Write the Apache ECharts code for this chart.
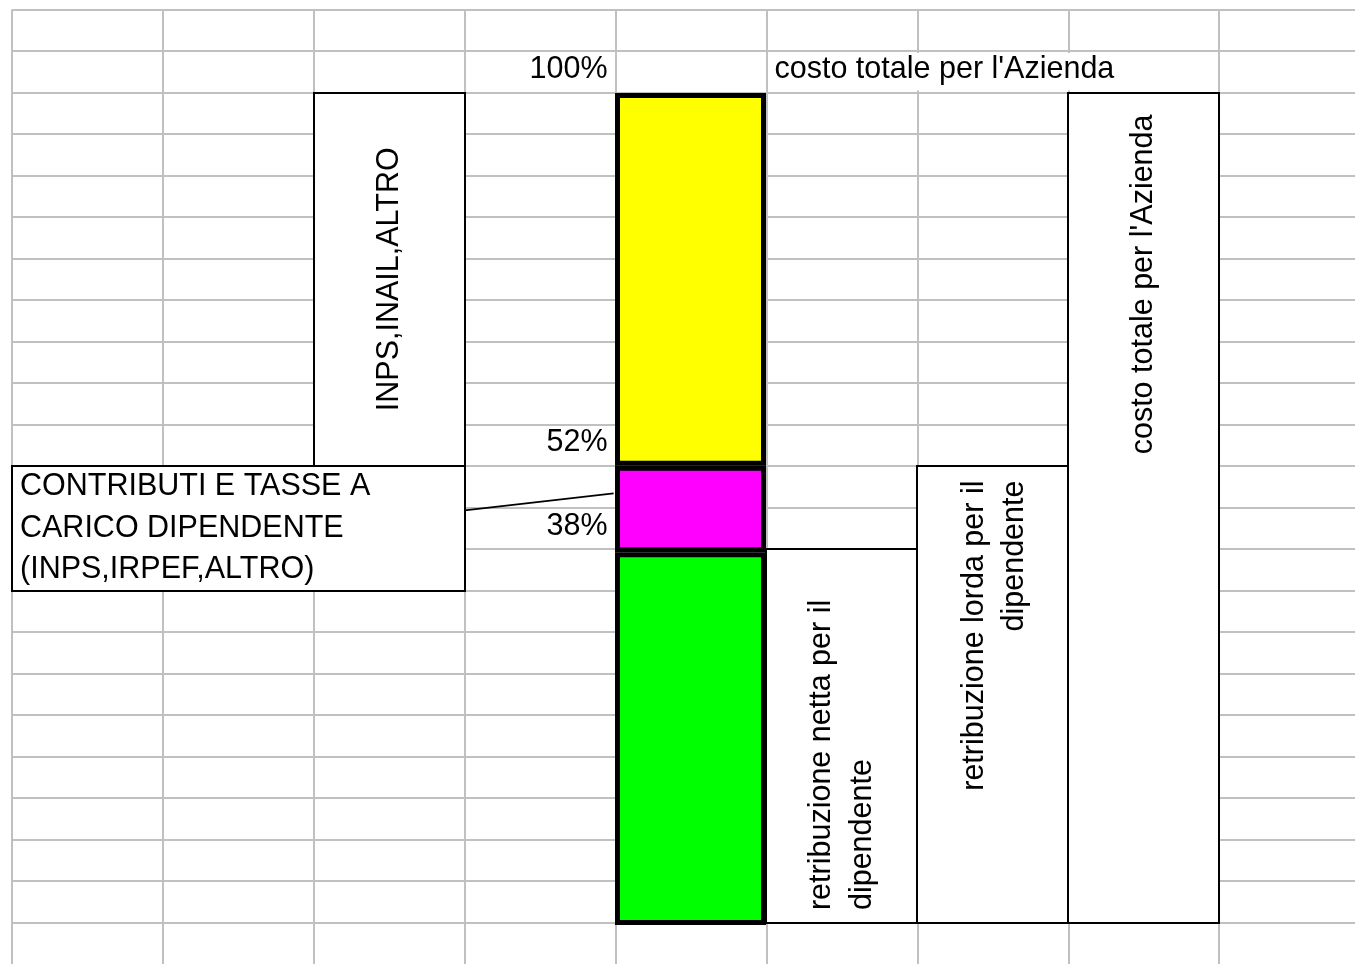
<!DOCTYPE html>
<html>
<head>
<meta charset="utf-8">
<script src="https://cdn.jsdelivr.net/npm/echarts@6/dist/echarts.min.js"></script>
<style>
html,body{margin:0;padding:0;background:#ffffff;}
#main{width:1355px;height:964px;}
</style>
</head>
<body>
<div id="main"></div>
<script>
// ================= DATA =================
const categories = ['costo del lavoro'];
const seriesNames = ['retribuzione netta', 'contributi e tasse a carico dipendente', 'INPS,INAIL,ALTRO'];
const netPay = [44.8];           // green segment
const employeeCharges = [10.4];  // magenta segment
const employerCharges = [44.8];  // yellow segment
const percentLabels = ['100%', '52%', '38%'];
const headerText = "costo totale per l'Azienda";
const boxTexts = [
  'INPS,INAIL,ALTRO',
  'CONTRIBUTI E TASSE A\nCARICO DIPENDENTE\n(INPS,IRPEF,ALTRO)',
  'retribuzione netta per il\ndipendente',
  'retribuzione lorda per il\ndipendente',
  "costo totale per l'Azienda"
];

// ================= LAYOUT (spreadsheet cell units: column, row) =================
const COL_W = 151, ROW_H = 41.636, LEFT = 12, TOP = 9.5;
const N_COLS = 8.9, N_ROWS = 23;
const FONT = {fontSize: 30.5, fontFamily: '"Liberation Sans", Arial, sans-serif', fill: '#000000'};

const boxLayout = [
  {c0: 2, r0: 2,  c1: 3, r1: 11, rot: true,  ax: 2.5,   ay: 6.5,   align: 'center'},
  {c0: 0, r0: 11, c1: 3, r1: 14, rot: false, ax: 0.053, ay: 12.5,  align: 'left'},
  {c0: 5, r0: 13, c1: 6, r1: 22, rot: true,  ax: 5.5,   ay: 21.7,  align: 'left'},
  {c0: 6, r0: 11, c1: 7, r1: 22, rot: true,  ax: 6.51,  ay: 11.35, align: 'right'},
  {c0: 7, r0: 2,  c1: 8, r1: 22, rot: true,  ax: 7.5,   ay: 2.53,  align: 'right'}
];
const cellTextLayout = [
  {c: 3.947, r: 1.443, align: 'right'},
  {c: 3.947, r: 10.43, align: 'right'},
  {c: 3.947, r: 12.45, align: 'right'}
];
const headerLayout = {c: 5.053, r: 1.443, maskC0: 5.02, maskC1: 7.98, maskR0: 1.05, maskR1: 1.95};
const leaderLine = {c0: 3.0, r0: 12.07, c1: 3.987, r1: 11.66};

const chart = echarts.init(document.getElementById('main'), null, {renderer: 'canvas'});

function renderAnnotations(params, api) {
  const children = [];
  // overflow mask for header text (spreadsheet hides gridlines under spilled text)
  const m0 = api.coord([headerLayout.maskC0, headerLayout.maskR0]);
  const m1 = api.coord([headerLayout.maskC1, headerLayout.maskR1]);
  children.push({type: 'rect', shape: {x: m0[0], y: m0[1], width: m1[0] - m0[0], height: m1[1] - m0[1]},
                 style: {fill: '#ffffff'}});
  // text boxes
  boxLayout.forEach(function (b, i) {
    const p0 = api.coord([b.c0, b.r0]);
    const p1 = api.coord([b.c1, b.r1]);
    children.push({type: 'rect',
      shape: {x: Math.round(p0[0]), y: Math.round(p0[1]), width: Math.round(p1[0]) - Math.round(p0[0]), height: Math.round(p1[1]) - Math.round(p0[1])},
      style: {fill: '#ffffff', stroke: '#000000', lineWidth: 2}});
    const a = api.coord([b.ax, b.ay]);
    children.push({type: 'text', x: a[0], y: a[1], rotation: b.rot ? Math.PI / 2 : 0,
      style: Object.assign({text: boxTexts[i], align: b.align, verticalAlign: 'middle', lineHeight: b.rot ? 40.5 : 41.6}, FONT)});
  });
  // cell texts
  cellTextLayout.forEach(function (t, i) {
    const a = api.coord([t.c, t.r]);
    children.push({type: 'text', x: a[0], y: a[1],
      style: Object.assign({text: percentLabels[i], align: t.align, verticalAlign: 'middle'}, FONT)});
  });
  const h = api.coord([headerLayout.c, headerLayout.r]);
  children.push({type: 'text', x: h[0], y: h[1],
    style: Object.assign({text: headerText, align: 'left', verticalAlign: 'middle'}, FONT)});
  return {type: 'group', children: children};
}

function renderLeader(params, api) {
  const p0 = api.coord([leaderLine.c0, leaderLine.r0]);
  const p1 = api.coord([leaderLine.c1, leaderLine.r1]);
  return {type: 'line', shape: {x1: p0[0], y1: p0[1], x2: p1[0], y2: p1[1]},
          style: {stroke: '#000000', lineWidth: 1.6}};
}

const gridLine = {show: true, showMaxLine: false, lineStyle: {color: '#c0c0c0', width: 2}};
const hiddenAxisParts = {axisLine: {show: false}, axisTick: {show: false}, axisLabel: {show: false}};

const option = {
  animation: false,
  backgroundColor: '#ffffff',
  grid: [
    {left: LEFT, top: TOP, width: COL_W * N_COLS, height: ROW_H * N_ROWS, containLabel: false},
    {left: 615, top: 93, width: 151, height: 832, containLabel: false}
  ],
  xAxis: [
    Object.assign({type: 'value', gridIndex: 0, min: 0, max: N_COLS, interval: 1, splitLine: gridLine}, hiddenAxisParts),
    Object.assign({type: 'category', gridIndex: 1, data: categories, splitLine: {show: false}}, hiddenAxisParts)
  ],
  yAxis: [
    Object.assign({type: 'value', gridIndex: 0, inverse: true, min: 0, max: N_ROWS, interval: 1, splitLine: gridLine}, hiddenAxisParts),
    Object.assign({type: 'value', gridIndex: 1, min: 0, max: 100, splitLine: {show: false}}, hiddenAxisParts)
  ],
  series: [
    {type: 'custom', name: 'annotations', xAxisIndex: 0, yAxisIndex: 0, z: 3, silent: true,
     renderItem: renderAnnotations, data: [[0, 0]], clip: false},
    {type: 'bar', name: seriesNames[0], xAxisIndex: 1, yAxisIndex: 1, stack: 'total', data: netPay,
     barWidth: '100%', clip: false, z: 4, itemStyle: {color: '#00ff00', borderColor: '#000000', borderWidth: 5}},
    {type: 'bar', name: seriesNames[1], xAxisIndex: 1, yAxisIndex: 1, stack: 'total', data: employeeCharges,
     barWidth: '100%', clip: false, z: 4, itemStyle: {color: '#ff00ff', borderColor: '#000000', borderWidth: 5}},
    {type: 'bar', name: seriesNames[2], xAxisIndex: 1, yAxisIndex: 1, stack: 'total', data: employerCharges,
     barWidth: '100%', clip: false, z: 4, itemStyle: {color: '#ffff00', borderColor: '#000000', borderWidth: 5}},
    {type: 'custom', name: 'leader', xAxisIndex: 0, yAxisIndex: 0, z: 5, silent: true,
     renderItem: renderLeader, data: [[0, 0]], clip: false}
  ]
};
chart.setOption(option);
</script>
</body>
</html>
